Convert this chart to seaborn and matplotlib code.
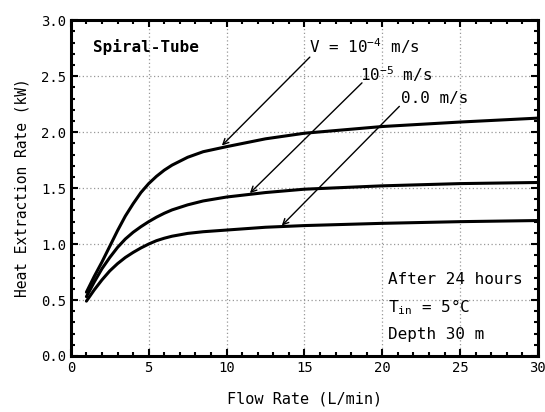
import numpy as np
import pandas as pd
import seaborn as sns
from matplotlib import pyplot as plt
from matplotlib.ticker import MultipleLocator

# Giá trị
flow = [1, 1.5, 2, 2.5, 3, 3.5, 4, 4.5, 5, 5.5, 6, 6.5, 7.5, 8.5, 10, 12.5, 15, 20, 25, 30]
q_v1e4 = [0.57, 0.71, 0.84, 0.98, 1.12, 1.25, 1.36, 1.46, 1.54, 1.605, 1.66, 1.705, 1.775, 1.825,
          1.87, 1.94, 1.99, 2.05, 2.09, 2.125]
q_v1e5 = [0.53, 0.66, 0.78, 0.88, 0.97, 1.045, 1.105, 1.155, 1.20, 1.24, 1.275, 1.305, 1.35, 1.385,
          1.42, 1.46, 1.49, 1.52, 1.54, 1.55]
q_v0 = [0.49, 0.59, 0.68, 0.76, 0.825, 0.88, 0.925, 0.965, 1.0, 1.03, 1.052, 1.07, 1.095, 1.11,
        1.125, 1.15, 1.165, 1.185, 1.20, 1.21]
series_names = ["1e-4", "1e-5", "0"]

df = pd.DataFrame({
    "flow": flow * 3,
    "q": q_v1e4 + q_v1e5 + q_v0,
    "v": sum([[n] * len(flow) for n in series_names], []),
})

sns.set_style("ticks")
plt.rcParams['font.family'] = ['DejaVu Sans Mono', 'DejaVu Sans']
plt.rcParams['mathtext.default'] = 'regular'
plt.rcParams['text.color'] = 'black'
plt.rcParams['axes.labelcolor'] = 'black'
plt.rcParams['xtick.color'] = 'black'
plt.rcParams['ytick.color'] = 'black'
plt.rcParams['axes.edgecolor'] = 'black'

fig = plt.figure(figsize=(5.45, 4.12), dpi=100)
ax = fig.add_axes([0.130, 0.136, 0.857, 0.815])

sns.lineplot(data=df, x="flow", y="q", hue="v", palette=["black"] * 3,
             linewidth=2.2, legend=False, ax=ax)
for ln in ax.lines:
    ln.set_solid_joinstyle('round')

ax.set_xlim(0, 30)
ax.set_ylim(0, 3.0)
ax.xaxis.set_major_locator(MultipleLocator(5))
ax.xaxis.set_minor_locator(MultipleLocator(1))
ax.yaxis.set_major_locator(MultipleLocator(0.5))
ax.yaxis.set_minor_locator(MultipleLocator(0.1))
ax.yaxis.set_major_formatter(plt.FuncFormatter(lambda v, p: f"{v:.1f}"))
ax.tick_params(which='both', direction='in', top=True, right=True, width=1.5, labelsize=10)
ax.tick_params(which='major', length=5)
ax.tick_params(which='minor', length=3)
ax.grid(True, which='major', linestyle=(0, (1, 2)), color='#999999', linewidth=0.9)
for s in ax.spines.values():
    s.set_linewidth(2.2)

ax.set_xlabel("Flow Rate (L/min)", fontsize=11, labelpad=12)
ax.set_ylabel("Heat Extraction Rate (kW)", fontsize=10.5, labelpad=8)

ax.text(1.4, 2.76, "Spiral-Tube", fontsize=11.5, fontweight='bold', va='center')

arrow = dict(arrowstyle='->', color='black', lw=1, shrinkA=0, shrinkB=0)
ax.annotate("", xy=(9.7, 1.88), xytext=(15.35, 2.67), arrowprops=arrow)
ax.annotate("", xy=(11.5, 1.455), xytext=(18.7, 2.44), arrowprops=arrow)
ax.annotate("", xy=(13.55, 1.165), xytext=(21.1, 2.23), arrowprops=arrow)
ax.text(15.3, 2.71, "V = $10^{-4}$ m/s", fontsize=11.5, va='baseline')
ax.text(18.6, 2.46, "$10^{-5}$ m/s", fontsize=11.5, va='baseline')
ax.text(21.2, 2.26, "0.0 m/s", fontsize=11.5, va='baseline')

ax.text(20.4, 0.68, "After 24 hours", fontsize=11.5, va='center')
ax.text(20.4, 0.44, "T$_{in}$ = 5°C", fontsize=11.5, va='center')
ax.text(20.4, 0.19, "Depth 30 m", fontsize=11.5, va='center')

fig.savefig("out.png", dpi=100)
